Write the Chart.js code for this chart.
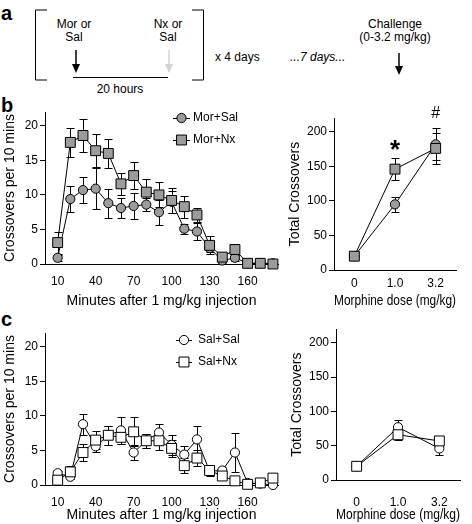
<!DOCTYPE html>
<html>
<head>
<meta charset="utf-8">
<title>Crossovers</title>
<script src="https://cdn.jsdelivr.net/npm/chart.js@4.4.1/dist/chart.umd.min.js"></script>
<style>
  html, body { margin: 0; padding: 0; background: #fff; }
  #fig { position: relative; width: 472px; height: 524px; overflow: hidden; }
  #fig canvas { position: absolute; }
  #schema { position: absolute; left: 0; top: 0; font-family: "Liberation Sans", Arial, sans-serif; }
</style>
</head>
<body>
<div id="fig">
  <svg id="schema" width="472" height="524">
    <!-- letras de panel -->
    <text x="1" y="20" font-size="20" font-weight="bold">a</text>
    <text x="1" y="112" font-size="20" font-weight="bold">b</text>
    <text x="1" y="326" font-size="20" font-weight="bold">c</text>
    <!-- esquema del protocolo -->
    <path d="M47,10 H35.5 V80 H47" fill="none" stroke="#000" stroke-width="1"/>
    <path d="M192,10 H203.5 V80 H192" fill="none" stroke="#000" stroke-width="1"/>
    <text x="74" y="28" font-size="12" text-anchor="middle">Mor or</text>
    <text x="74" y="41" font-size="12" text-anchor="middle">Sal</text>
    <text x="168" y="28" font-size="12" text-anchor="middle">Nx or</text>
    <text x="168" y="41" font-size="12" text-anchor="middle">Sal</text>
    <line x1="76" y1="50" x2="76" y2="66" stroke="#000" stroke-width="1.5"/>
    <polygon points="72,64 80,64 76,73" fill="#000"/>
    <line x1="169" y1="50" x2="169" y2="66" stroke="#d2d2d2" stroke-width="1.5"/>
    <polygon points="165,64 173,64 169,73" fill="#d2d2d2"/>
    <line x1="73" y1="77.5" x2="168" y2="77.5" stroke="#000" stroke-width="1"/>
    <text x="120" y="93" font-size="12" text-anchor="middle">20 hours</text>
    <text x="215" y="61" font-size="12">x  4 days</text>
    <text x="290" y="61" font-size="12" font-style="italic">...7 days...</text>
    <text x="395" y="28" font-size="12" text-anchor="middle">Challenge</text>
    <text x="395" y="41" font-size="12" text-anchor="middle">(0-3.2 mg/kg)</text>
    <line x1="399" y1="53" x2="399" y2="67" stroke="#000" stroke-width="1.5"/>
    <polygon points="395,66 403,66 399,75" fill="#000"/>
  </svg>
  <canvas id="bLeft" width="290" height="215" style="left:0px;top:100px"></canvas>
  <canvas id="bRight" width="188" height="215" style="left:284px;top:100px"></canvas>
  <canvas id="cLeft" width="290" height="202" style="left:0px;top:322px"></canvas>
  <canvas id="cRight" width="188" height="204" style="left:284px;top:320px"></canvas>
</div>
<script>
// Ejes
const minutes = [10, 20, 30, 40, 50, 60, 70, 80, 90, 100, 110, 120, 130, 140, 150, 160, 170, 180];
const minuteTicks = [10, 40, 70, 100, 130, 160];
const countTicks = [0, 5, 10, 15, 20];
const doses = ['0', '1.0', '3.2'];
const totalTicks = [0, 50, 100, 150, 200];

// Panel b: cruces cada 10 min (media y error)
const morSal = [0.9, 9.4, 10.7, 10.9, 8.8, 8.1, 8.4, 8.6, 7.5, 9.0, 5.1, 4.7, 2.3, 0.5, 0.9, 0.1, 0.1, 0.1];
const morSalErr = [0.4, 1.9, 1.9, 3.0, 2.1, 1.4, 1.9, 0.9, 1.8, 1.6, 0.7, 1.2, 0.6, 0.3, 0.4, 0, 0, 0];
const morNx = [3.1, 17.6, 18.6, 16.4, 16.0, 11.6, 12.8, 10.4, 10.0, 9.2, 8.3, 7.1, 2.7, 1.0, 2.1, 0.1, 0.1, 0.0];
const morNxErr = [1.6, 2.1, 2.4, 2.4, 2.1, 1.6, 1.9, 1.9, 1.8, 1.8, 1.6, 1.0, 1.3, 0.5, 0.8, 0, 0, 0];

// Panel c
const salSal = [1.7, 1.2, 8.8, 5.6, 7.2, 7.9, 4.7, 6.4, 7.6, 5.8, 4.4, 6.6, 2.0, 2.1, 4.7, 0.3, 0.2, 0.0];
const salSalErr = [0.3, 0.3, 1.5, 0.8, 1.4, 2.0, 1.1, 1.0, 1.3, 1.5, 1.3, 2.0, 0.7, 0.5, 2.8, 0, 0, 0];
const salNx = [0.7, 1.9, 4.7, 6.5, 7.2, 6.9, 7.7, 6.4, 6.4, 5.3, 2.8, 3.9, 2.1, 1.3, 0.6, 0.1, 0.3, 1.0];
const salNxErr = [0.6, 0.8, 1.2, 1.3, 1.4, 1.0, 2.1, 1.0, 1.3, 1.2, 1.1, 1.1, 0.6, 0.5, 0, 0, 0, 0];

// Totales por dosis
const morSalDose = [20, 95, 182];
const morSalDoseErr = [3, 10.5, 23];
const morNxDose = [20, 146, 176];
const morNxDoseErr = [3, 15.5, 23];
const salSalDose = [20, 77, 46];
const salSalDoseErr = [2, 11, 10];
const salNxDose = [20, 66, 57];
const salNxDoseErr = [2, 7, 7];

// Marcas de significancia
const marks = [
    { text: '*', dose: '1.0', value: 172, font: 'bold 26px' },
    { text: '#', dose: '3.2', value: 226, font: '16px' }
];

const FONT = '"Liberation Sans", Arial, sans-serif';
const GRAY = '#9c9c9c';
Chart.defaults.font.family = FONT;
Chart.defaults.color = '#000';

function drawMarker(ctx, style, r, x, y, fill) {
    ctx.beginPath();
    if (style === 'rect') {
        const h = r * Math.SQRT1_2;
        ctx.rect(x - h, y - h, 2 * h, 2 * h);
    } else {
        ctx.arc(x, y, r, 0, Math.PI * 2);
    }
    ctx.fillStyle = fill;
    ctx.fill();
    ctx.strokeStyle = '#000';
    ctx.lineWidth = 1;
    ctx.stroke();
}

// Barras de error (media +/- error) usando las escalas de la gráfica
function errorBars(errs) {
    return {
        id: 'errorBars',
        beforeDatasetsDraw(chart) {
            const ctx = chart.ctx;
            const y = chart.scales.y;
            ctx.save();
            ctx.strokeStyle = '#000';
            ctx.lineWidth = 1;
            chart.data.datasets.forEach((ds, d) => {
                chart.getDatasetMeta(d).data.forEach((pt, i) => {
                    const e = errs[d][i];
                    if (!e) return;
                    const raw = ds.data[i];
                    const v = typeof raw === 'object' ? raw.y : raw;
                    const px = Math.round(pt.x) + 0.5;
                    const top = Math.round(y.getPixelForValue(v + e)) + 0.5;
                    const bot = Math.round(y.getPixelForValue(v - e)) + 0.5;
                    ctx.beginPath();
                    ctx.moveTo(px, top); ctx.lineTo(px, bot);
                    ctx.moveTo(px - 4, top); ctx.lineTo(px + 4, top);
                    ctx.moveTo(px - 4, bot); ctx.lineTo(px + 4, bot);
                    ctx.stroke();
                });
            });
            ctx.restore();
        }
    };
}

// Leyenda con linea y marcador
function lineLegend(items) {
    return {
        id: 'lineLegend',
        afterDraw(chart) {
            const ctx = chart.ctx;
            ctx.save();
            items.forEach(it => {
                const ds = chart.data.datasets[it.index];
                ctx.strokeStyle = '#000';
                ctx.lineWidth = 1;
                ctx.beginPath();
                ctx.moveTo(it.x, it.y + 0.5);
                ctx.lineTo(it.x + it.w, it.y + 0.5);
                ctx.stroke();
                drawMarker(ctx, ds.pointStyle, ds.pointRadius, it.x + it.w / 2, it.y, ds.pointBackgroundColor);
                ctx.fillStyle = '#000';
                ctx.font = '12px ' + FONT;
                ctx.textBaseline = 'middle';
                ctx.fillText(ds.label, it.x + it.w + it.gap, it.y);
            });
            ctx.restore();
        }
    };
}

function markText(list) {
    return {
        id: 'markText',
        afterDraw(chart) {
            const ctx = chart.ctx;
            ctx.save();
            ctx.fillStyle = '#000';
            ctx.textAlign = 'center';
            ctx.textBaseline = 'middle';
            list.forEach(m => {
                ctx.font = m.font + ' ' + FONT;
                const x = chart.scales.x.getPixelForValue(doses.indexOf(m.dose));
                ctx.fillText(m.text, x, chart.scales.y.getPixelForValue(m.value));
            });
            ctx.restore();
        }
    };
}

function series(label, values, style, fill) {
    return {
        label: label,
        data: values,
        borderColor: '#000',
        borderWidth: 1,
        pointStyle: style,
        pointRadius: style === 'rect' ? 7 : 4.6,
        pointBackgroundColor: fill,
        pointBorderColor: '#000',
        pointBorderWidth: 1,
        tension: 0,
        fill: false,
        clip: false
    };
}

function yAxis(max, ticks, title, width, titlePad) {
    return {
        min: 0,
        max: max,
        afterBuildTicks: s => { s.ticks = ticks.map(v => ({ value: v })); },
        afterFit: s => { s.width = width; },
        grid: { display: true, drawOnChartArea: false, drawTicks: true, tickLength: 5, color: '#000' },
        border: { display: true, color: '#000', width: 1 },
        ticks: { font: { size: 12 }, padding: 2 },
        title: { display: true, text: title, font: { size: 14 }, padding: { top: titlePad, bottom: 0 } }
    };
}

function xTitle(text, pad) {
    return { display: true, text: text, font: { size: 14 }, padding: { top: 0, bottom: pad } };
}

function baseOptions(pad) {
    return {
        responsive: false,
        animation: false,
        devicePixelRatio: 1,
        events: [],
        layout: { padding: pad },
        plugins: { legend: { display: false }, tooltip: { enabled: false } }
    };
}

// Curso temporal (paneles de la izquierda)
function createTimeChart(id, sets, errs, legendItems, dims) {
    const opts = baseOptions({ top: dims.top, right: dims.right, left: 0, bottom: 0 });
    opts.scales = {
        x: {
            type: 'linear',
            min: 0,
            max: 184,
            afterBuildTicks: s => { s.ticks = minuteTicks.map(v => ({ value: v })); },
            afterFit: s => { s.height = dims.xHeight; },
            grid: { display: true, drawOnChartArea: false, drawTicks: false },
            border: { display: true, color: '#000', width: 1 },
            ticks: { font: { size: 12 }, padding: dims.tickPad, maxRotation: 0, autoSkip: false },
            title: xTitle('Minutes after 1 mg/kg injection', dims.titlePad)
        },
        y: yAxis(22, countTicks, 'Crossovers per 10 mins', 45, dims.yTitlePad)
    };
    return new Chart(document.getElementById(id), {
        type: 'line',
        data: {
            datasets: sets.map(s => series(s.label,
                minutes.map((m, i) => ({ x: m, y: s.values[i] })), s.style, s.fill))
        },
        options: opts,
        plugins: [errorBars(errs), lineLegend(legendItems)]
    });
}

// Totales segun dosis (paneles de la derecha)
function createDoseChart(id, sets, errs, extra, dims) {
    const opts = baseOptions({ top: dims.top, right: dims.right, left: 0, bottom: 0 });
    opts.scales = {
        x: {
            type: 'category',
            labels: doses,
            offset: true,
            afterFit: s => { s.height = dims.xHeight; },
            grid: { display: true, drawOnChartArea: false, drawTicks: false },
            border: { display: true, color: '#000', width: 1 },
            ticks: { font: { size: 12 }, padding: dims.tickPad, maxRotation: 0 },
            title: xTitle('Morphine dose (mg/kg)', dims.titlePad)
        },
        y: yAxis(220, totalTicks, 'Total Crossovers', dims.yWidth, dims.yTitlePad)
    };
    return new Chart(document.getElementById(id), {
        type: 'line',
        data: {
            labels: doses,
            datasets: sets.map(s => series(s.label, s.values, s.style, s.fill))
        },
        options: opts,
        plugins: [errorBars(errs)].concat(extra)
    });
}

// Cuadrados primero para que queden encima
createTimeChart('bLeft',
    [{ label: 'Mor+Nx', values: morNx, style: 'rect', fill: GRAY },
     { label: 'Mor+Sal', values: morSal, style: 'circle', fill: GRAY }],
    [morNxErr, morSalErr],
    [{ index: 1, x: 173, y: 18, w: 17, gap: 3 }, { index: 0, x: 173, y: 40, w: 17, gap: 3 }],
    { top: 12, right: 12, xHeight: 51, tickPad: 10, titlePad: 5, yTitlePad: 2 });

createDoseChart('bRight',
    [{ label: 'Mor+Nx', values: morNxDose, style: 'rect', fill: GRAY },
     { label: 'Mor+Sal', values: morSalDose, style: 'circle', fill: GRAY }],
    [morNxDoseErr, morSalDoseErr],
    [markText(marks)],
    { top: 18, right: 16, xHeight: 45, tickPad: 6, titlePad: 5, yWidth: 50, yTitlePad: 3 });

createTimeChart('cLeft',
    [{ label: 'Sal+Nx', values: salNx, style: 'rect', fill: '#fff' },
     { label: 'Sal+Sal', values: salSal, style: 'circle', fill: '#fff' }],
    [salNxErr, salSalErr],
    [{ index: 1, x: 176, y: 18, w: 16, gap: 6 }, { index: 0, x: 176, y: 40, w: 16, gap: 6 }],
    { top: 11, right: 12, xHeight: 39, tickPad: 10, titlePad: 0, yTitlePad: 2 });

createDoseChart('cRight',
    [{ label: 'Sal+Nx', values: salNxDose, style: 'rect', fill: '#fff' },
     { label: 'Sal+Sal', values: salSalDose, style: 'circle', fill: '#fff' }],
    [salNxDoseErr, salSalDoseErr],
    [],
    { top: 8, right: 12, xHeight: 44, tickPad: 15, titlePad: 0, yWidth: 52, yTitlePad: 5 });
</script>
</body>
</html>
